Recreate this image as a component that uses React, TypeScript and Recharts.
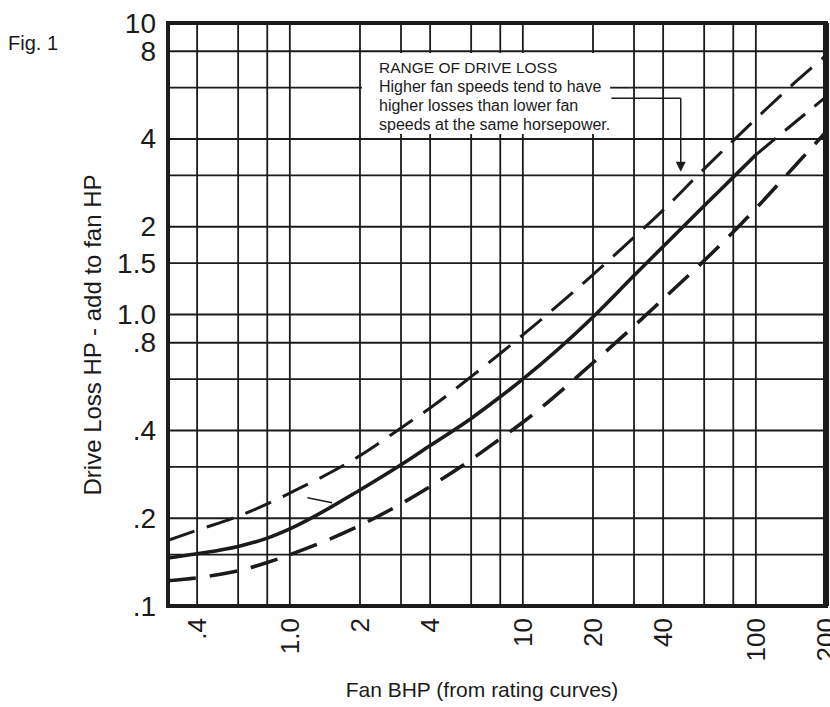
import React from 'react';
import { LineChart, Line, XAxis, YAxis, CartesianGrid, ReferenceArea, ReferenceLine, ReferenceDot } from 'recharts';

// Fan BHP sample points
const fanBhp = [0.3, 0.4, 0.6, 0.8, 1, 2, 3, 4, 6, 8, 10, 20, 30, 40, 60, 80, 100, 150, 200];
const upperLoss = [0.168, 0.182, 0.203, 0.224, 0.244, 0.328, 0.408, 0.478, 0.612, 0.735, 0.851, 1.37, 1.84, 2.28, 3.16, 3.95, 4.69, 6.34, 7.75];
const middleLoss = [0.146, 0.151, 0.16, 0.171, 0.184, 0.25, 0.305, 0.355, 0.44, 0.522, 0.6, 0.98, 1.36, 1.71, 2.36, 2.96, 3.53, 4.62, 5.58];
const lowerLoss = [0.122, 0.125, 0.132, 0.141, 0.15, 0.189, 0.224, 0.257, 0.318, 0.375, 0.427, 0.683, 0.913, 1.13, 1.53, 1.92, 2.31, 3.29, 4.23];
const middleSolidUntil = 100;

const xGridValues = [0.4, 0.6, 0.8, 1, 2, 3, 4, 6, 8, 10, 20, 30, 40, 60, 80, 100, 200];
const xTickValues = [0.4, 1, 2, 4, 10, 20, 40, 100, 200];
const xTickText = ['.4', '1.0', '2', '4', '10', '20', '40', '100', '200'];

const yGridValues = [0.1, 0.15, 0.2, 0.3, 0.4, 0.6, 0.8, 1, 1.5, 2, 3, 4, 6, 8, 10];
const yTickValues = [10, 8, 4, 2, 1.5, 1, 0.8, 0.4, 0.2, 0.1];
const yTickText = ['10', '8', '4', '2', '1.5', '1.0', '.8', '.4', '.2', '.1'];

const data = fanBhp.map((bhp, i) => ({
  bhp,
  upper: upperLoss[i],
  middle: bhp <= middleSolidUntil ? middleLoss[i] : null,
  middleTail: bhp >= middleSolidUntil ? middleLoss[i] : null,
  lower: lowerLoss[i],
}));

const ink = '#1b1b1b';
const font = '"Liberation Sans", Arial, Helvetica, sans-serif';

const XTick = (props: any) => {
  const { x, y, payload } = props;
  const i = xTickValues.indexOf(payload.value);
  if (i < 0) return null;
  return (
    <text x={x} y={y} transform={`rotate(-90 ${x} ${y})`} textAnchor="end" dominantBaseline="central"
      fontSize={26} fill={ink} fontFamily={font}>
      {xTickText[i]}
    </text>
  );
};

const YTick = (props: any) => {
  const { x, y, payload } = props;
  const i = yTickValues.indexOf(payload.value);
  if (i < 0) return null;
  return (
    <text x={x} y={y} textAnchor="end" dominantBaseline="central" fontSize={28} fill={ink} fontFamily={font}>
      {yTickText[i]}
    </text>
  );
};

const ArrowHead = (props: any) => {
  const { cx, cy } = props;
  return <path d={`M${cx - 5},${cy - 10} L${cx + 5},${cy - 10} L${cx},${cy} Z`} fill={ink} />;
};

export default function App() {
  return (
    <div style={{ position: 'absolute', left: 0, top: 0, width: 830, height: 707, background: '#fff', fontFamily: font, color: ink }}>
      <LineChart width={830} height={707} data={data} margin={{ top: 23, right: 4, bottom: 41, left: 108 }}>
        <CartesianGrid stroke={ink} strokeWidth={1.8} />
        <XAxis dataKey="bhp" type="number" scale="log" domain={[0.3, 200]} allowDataOverflow
          ticks={xGridValues} tick={(p: any) => <XTick {...p} />} tickLine={false} axisLine={false}
          tickSize={0} tickMargin={12} height={60} interval={0} />
        <YAxis type="number" scale="log" domain={[0.1, 10]} allowDataOverflow
          ticks={yGridValues} tick={(p: any) => <YTick {...p} />} tickLine={false} axisLine={false}
          tickSize={0} tickMargin={12} width={60} interval={0} />

        <ReferenceArea x1={2.04} x2={28.9} y1={4.16} y2={7.89} fill="#fff" fillOpacity={1} stroke="none" />

        <Line dataKey="upper" type="monotone" stroke={ink} strokeWidth={3} strokeDasharray="28 13" dot={false} isAnimationActive={false} />
        <Line dataKey="middle" type="monotone" stroke={ink} strokeWidth={3.6} dot={false} isAnimationActive={false} />
        <Line dataKey="middleTail" type="monotone" stroke={ink} strokeWidth={3} strokeDasharray="26 12" dot={false} isAnimationActive={false} />
        <Line dataKey="lower" type="monotone" stroke={ink} strokeWidth={3.6} strokeDasharray="28 14" dot={false} isAnimationActive={false} />

        <ReferenceLine segment={[{ x: 1.19, y: 0.235 }, { x: 1.52, y: 0.226 }]} stroke={ink} strokeWidth={1.5} />
        <ReferenceLine segment={[{ x: 23.7, y: 6 }, { x: 28.9, y: 6 }]} stroke={ink} strokeWidth={1.8} />
        <ReferenceLine segment={[{ x: 24.0, y: 5.52 }, { x: 47.6, y: 5.52 }]} stroke={ink} strokeWidth={1.5} />
        <ReferenceLine segment={[{ x: 47.6, y: 5.52 }, { x: 47.6, y: 3.3 }]} stroke={ink} strokeWidth={1.5} />
        <ReferenceDot x={47.6} y={3.09} shape={(p: any) => <ArrowHead {...p} />} />

        <ReferenceArea x1={0.3} x2={200} y1={0.1} y2={10} fill="none" stroke={ink} strokeWidth={4} />
        <ReferenceLine x={200} stroke={ink} strokeWidth={6} />
      </LineChart>

      <div style={{ position: 'absolute', left: 8, top: 33, fontSize: 20, lineHeight: 1, whiteSpace: 'nowrap' }}>Fig. 1</div>
      <div style={{ position: 'absolute', left: 93, top: 335, fontSize: 24, lineHeight: 1, whiteSpace: 'nowrap',
        transform: 'translate(-50%, -50%) rotate(-90deg)' }}>
        Drive Loss HP - add to fan HP
      </div>
      <div style={{ position: 'absolute', left: 482, top: 679, fontSize: 21, lineHeight: 1, whiteSpace: 'nowrap',
        transform: 'translateX(-50%)' }}>
        Fan BHP (from rating curves)
      </div>
      <div style={{ position: 'absolute', left: 379, top: 58, fontSize: 16, lineHeight: '19px', whiteSpace: 'nowrap' }}>
        <div style={{ fontSize: 15.5 }}>RANGE OF DRIVE LOSS</div>
        <div>Higher fan speeds tend to have</div>
        <div>higher losses than lower fan</div>
        <div>speeds at the same horsepower.</div>
      </div>
    </div>
  );
}
